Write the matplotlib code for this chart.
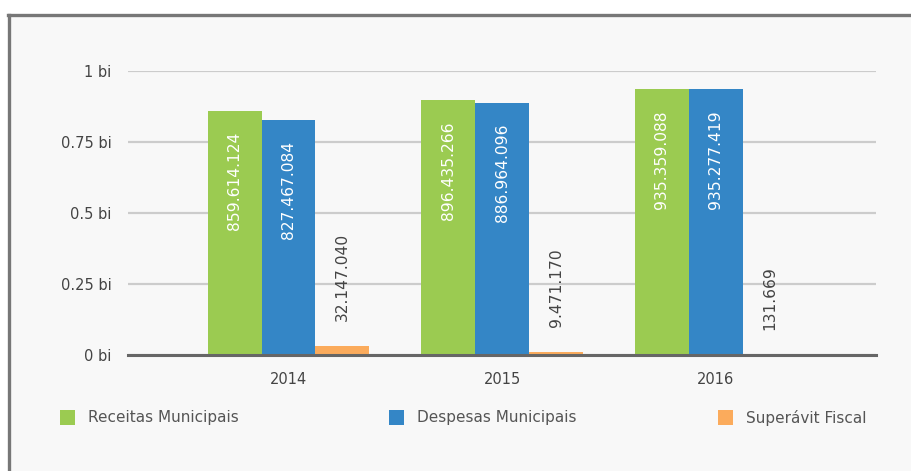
import matplotlib
matplotlib.use("Agg")
import matplotlib.pyplot as plt
from matplotlib.patches import Rectangle
from matplotlib.lines import Line2D
import numpy as np

plt.rcParams['font.family'] = ['DejaVu Sans']

years = ["2014", "2015", "2016"]
series_names = ["Receitas Municipais", "Despesas Municipais", "Superávit Fiscal"]
receitas = [859614124, 896435266, 935359088]
despesas = [827467084, 886964096, 935277419]
superavit = [32147040, 9471170, 131669]
yticks = [0, 0.25, 0.5, 0.75, 1.0]
ytick_labels = ["0 bi", "0.25 bi", "0.5 bi", "0.75 bi", "1 bi"]

colors = ["#9bcb51", "#3486c6", "#fbab5c"]
series = [receitas, despesas, superavit]

W, H = 912, 471
fig = plt.figure(figsize=(W / 100, H / 100), dpi=100)
fig.patch.set_facecolor("white")

# panel background with frame on left/top
fig.patches.append(Rectangle((9 / W, 0), 1.0, 1 - 15 / H, transform=fig.transFigure,
                             facecolor="#f8f8f8", edgecolor="none", zorder=-5))
fig.add_artist(Line2D([9 / W, 9 / W], [0, 1 - 14.5 / H], transform=fig.transFigure,
                      color="#777777", lw=2.4, zorder=-4))
fig.add_artist(Line2D([8 / W, 1], [1 - 14.5 / H, 1 - 14.5 / H], transform=fig.transFigure,
                      color="#777777", lw=2.4, zorder=-4))

ax = fig.add_axes([128 / W, 1 - 355 / H, (876 - 128) / W, (355 - 71) / H])
ax.set_facecolor("none")
ax.set_zorder(2)

x = np.arange(len(years))
bw = 0.2526
offsets = [-bw, 0, bw]
for vals, c, off, name in zip(series, colors, offsets, series_names):
    v = np.array(vals) / 1e9
    ax.bar(x + off, v, width=bw, color=c, zorder=3, label=name)

def fmt(n):
    return f"{n:,}".replace(",", ".")

for i in range(len(years)):
    for vals, off in zip(series[:2], offsets[:2]):
        v = vals[i] / 1e9
        ax.text(x[i] + off, v - 0.073, fmt(vals[i]), rotation=90, ha="center", va="top",
                color="white", fontsize=11.2, zorder=4)
    v = superavit[i] / 1e9
    ax.text(x[i] + offsets[2], v + 0.088, fmt(superavit[i]), rotation=90, ha="center",
            va="bottom", color="#444444", fontsize=11.2, zorder=4)

ax.set_xlim(-0.751, 2.749)
ax.set_ylim(0, 1)
ax.set_yticks(yticks)
ax.set_yticklabels(ytick_labels)
ax.set_xticks(x)
ax.set_xticklabels(years)
ax.tick_params(axis="y", length=0, pad=12, labelsize=10.5, labelcolor="#444444")
ax.tick_params(axis="x", length=0, pad=12, labelsize=10.5, labelcolor="#444444")
ax.grid(axis="y", color="#cccccc", lw=1.6, zorder=0)
for s in ["top", "right", "left"]:
    ax.spines[s].set_visible(False)
ax.spines["bottom"].set_color("#666666")
ax.spines["bottom"].set_linewidth(2.2)
ax.spines["bottom"].set_zorder(5)

# legend
leg_x = [60, 389, 718]
for name, c, lx in zip(series_names, colors, leg_x):
    fig.patches.append(Rectangle((lx / W, 1 - 425 / H), 15 / W, 15 / H,
                                 transform=fig.transFigure, facecolor=c, edgecolor="none"))
    fig.text((lx + 28) / W, 1 - 417.5 / H, name, ha="left", va="center",
             fontsize=11, color="#555555")

fig.savefig("out.png", dpi=100, facecolor=fig.get_facecolor())
